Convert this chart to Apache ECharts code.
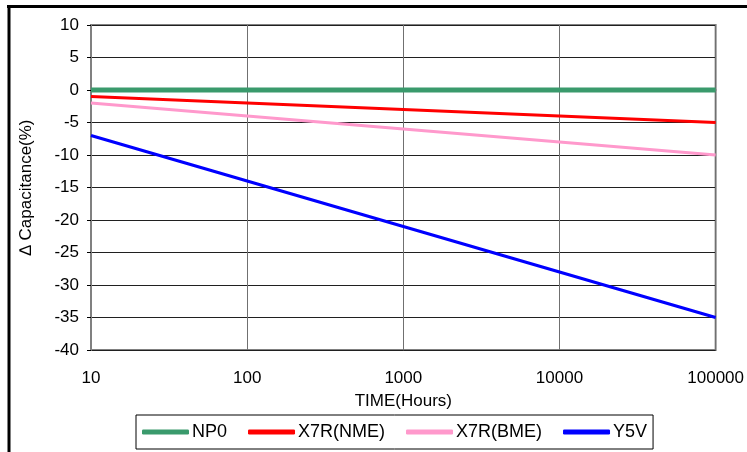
<!DOCTYPE html>
<html>
<head>
<meta charset="utf-8">
<style>
html,body{margin:0;padding:0;background:#fff;}
#chart{width:747px;height:452px;}
</style>
<script src="https://cdn.jsdelivr.net/npm/echarts@6/dist/echarts.min.js"></script>
</head>
<body>
<div id="chart"></div>
<script>
const timeHours = [10, 100, 1000, 10000, 100000];
const np0 = [0, 0, 0, 0, 0];
const x7rNme = [-1, -2, -3, -4, -5];
const x7rBme = [-2, -4, -6, -8, -10];
const y5v = [-7, -14, -21, -28, -35];
const seriesNames = ['NP0', 'X7R(NME)', 'X7R(BME)', 'Y5V'];
const seriesColors = ['#3a9a6c', '#ff0000', '#ff99cc', '#0000ff'];
const seriesWidths = [5, 3.2, 3.2, 3.2];
const seriesData = [np0, x7rNme, x7rBme, y5v];

const FONT = 'Liberation Sans, Arial, sans-serif';
const chart = echarts.init(document.getElementById('chart'), null, {renderer: 'canvas'});

chart.setOption({
  animation: false,
  backgroundColor: '#fff',
  textStyle: {fontFamily: FONT},
  grid: {left: 91, right: 31, top: 25, bottom: 102, show: true, borderColor: '#808080', borderWidth: 2},
  xAxis: {
    type: 'log', logBase: 10, min: 10, max: 100000,
    name: 'TIME(Hours)', nameLocation: 'middle', nameGap: 43,
    nameTextStyle: {fontSize: 17, color: '#000', fontFamily: FONT},
    axisLine: {show: true, lineStyle: {color: '#808080', width: 2}},
    axisTick: {show: false},
    minorTick: {show: false},
    axisLabel: {fontSize: 17, color: '#000', margin: 20, fontFamily: FONT,
      formatter: v => String(Math.round(v))},
    splitLine: {show: true, lineStyle: {color: '#707070', width: 1}}
  },
  yAxis: {
    type: 'value', min: -40, max: 10, interval: 5,
    name: '\u2206 Capacitance(%)', nameLocation: 'middle', nameGap: 56,
    nameTextStyle: {fontSize: 17, color: '#000', fontFamily: FONT},
    axisLine: {show: true, lineStyle: {color: '#808080', width: 2}},
    axisTick: {show: true, length: 4, lineStyle: {color: '#000'}},
    axisLabel: {fontSize: 17, color: '#000', margin: 12, fontFamily: FONT},
    splitLine: {show: true, lineStyle: {color: '#202020', width: 1}}
  },
  legend: {
    data: seriesNames,
    left: 136, top: 415,
    icon: 'roundRect',
    itemWidth: 47, itemHeight: 5, itemGap: 21,
    padding: [8, 6, 8, 6],
    borderColor: '#000', borderWidth: 1,
    textStyle: {fontSize: 18, color: '#000', fontFamily: FONT, padding: [0, 0, 0, -2]}
  },
  graphic: [
    {type: 'line', shape: {x1: 7, y1: 6.5, x2: 747, y2: 6.5}, style: {stroke: '#000', lineWidth: 3}, silent: true},
    {type: 'line', shape: {x1: 9, y1: 5, x2: 9, y2: 452}, style: {stroke: '#000', lineWidth: 3}, silent: true}
  ],
  series: seriesNames.map((name, i) => ({
    name: name,
    type: 'line',
    symbol: 'none',
    z: 10 - i,
    data: timeHours.map((t, j) => [t, seriesData[i][j]]),
    lineStyle: {color: seriesColors[i], width: seriesWidths[i]},
    itemStyle: {color: seriesColors[i]}
  }))
});
</script>
</body>
</html>
